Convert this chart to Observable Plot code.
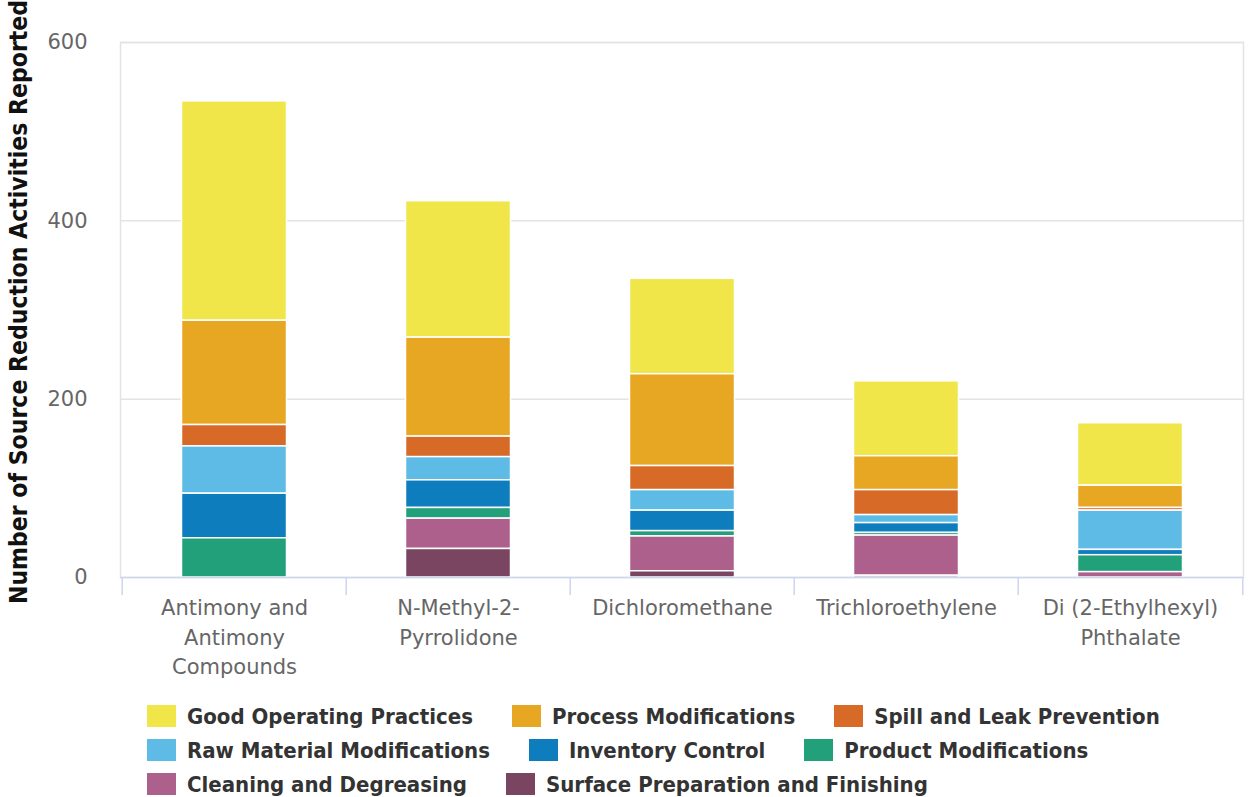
<!DOCTYPE html>
<html>
<head>
<meta charset="utf-8">
<script src="https://cdn.jsdelivr.net/npm/d3@7"></script>
<script src="https://cdn.jsdelivr.net/npm/@observablehq/plot@0.6"></script>
<style>
  html, body { margin: 0; padding: 0; background: #fff; }
  #chart svg { display: block; }
  #legend { padding-left: 147px; margin-top: 4px; font-family: "DejaVu Sans Condensed", "DejaVu Sans", sans-serif; font-stretch: condensed; font-weight: bold; font-size: 22px; color: #333; }
  .row { display: flex; align-items: center; height: 34px; }
  .item { display: flex; align-items: center; margin-right: 39px; white-space: nowrap; }
  .sw { width: 29px; height: 22px; margin-right: 11px; flex: none; }
  .ytitle { font-family: "DejaVu Sans Condensed", "DejaVu Sans", sans-serif; font-stretch: condensed; }
</style>
</head>
<body>
<div id="chart"></div>
<div id="legend"></div>
<script>
const categories = ["Antimony and Antimony Compounds", "N-Methyl-2-Pyrrolidone", "Dichloromethane", "Trichloroethylene", "Di (2-Ethylhexyl) Phthalate"];
const tickLabels = ["Antimony and\nAntimony\nCompounds", "N-Methyl-2-\nPyrrolidone", "Dichloromethane", "Trichloroethylene", "Di (2-Ethylhexyl)\nPhthalate"];
const series = ["Good Operating Practices", "Process Modifications", "Spill and Leak Prevention", "Raw Material Modifications", "Inventory Control", "Product Modifications", "Cleaning and Degreasing", "Surface Preparation and Finishing"];
const colors = ["#f0e64a", "#e8a723", "#d86a28", "#5dbbe5", "#0e7dbd", "#21a07a", "#ae608c", "#7a4561"];

const goodOperating = [246, 153, 107, 84, 70];
const processMods   = [117, 111, 103, 38, 25];
const spillLeak     = [24, 23, 27, 28, 3];
const rawMaterial   = [53, 26, 23, 9, 44];
const inventory     = [50, 31, 23, 11, 6];
const productMods   = [44, 12, 6, 3, 19];
const cleaning      = [0, 34, 39, 45, 6];
const surfacePrep   = [0, 32, 7, 2, 0];

const yTicks = [0, 200, 400, 600];
const yTitle = "Number of Source Reduction Activities Reported";

const seriesValues = [goodOperating, processMods, spillLeak, rawMaterial, inventory, productMods, cleaning, surfacePrep];
const table = [];
series.forEach((s, i) => categories.forEach((c, j) => {
  if (seriesValues[i][j] > 0) table.push({chem: c, type: s, value: seriesValues[i][j]});
}));
const stackOrder = [...series].reverse();

const W = 1249, H = 695, mL = 120, mR = 6, mT = 42, mB = H - 577;
const bw = (W - mL - mR) / categories.length;
const labelOf = new Map(categories.map((c, i) => [c, tickLabels[i]]));

const chart = Plot.plot({
  width: W, height: H,
  marginLeft: mL, marginRight: mR, marginTop: mT, marginBottom: mB,
  style: {fontFamily: "DejaVu Sans, sans-serif", background: "#fff"},
  x: {domain: categories, padding: 0, axis: null},
  y: {domain: [0, 600], axis: null},
  color: {domain: series, range: colors},
  marks: [
    Plot.gridY([200, 400, 600], {stroke: "#e3e3e3", strokeOpacity: 1, strokeWidth: 1.5}),
    Plot.frame({stroke: "#e3e3e3", strokeWidth: 1.5}),
    Plot.barY(table, Plot.stackY({order: stackOrder}, {x: "chem", y: "value", fill: "type", stroke: "white", strokeWidth: 1.5, insetLeft: 59.5, insetRight: 59.5})),
    Plot.ruleY([0], {stroke: "#ccd6eb", strokeWidth: 1.5}),
    Plot.axisX(categories, {tickSize: 18, tickFormat: () => "", stroke: "#ccd6eb", strokeWidth: 1.5, dx: -bw / 2, label: null}),
    Plot.axisX([categories[categories.length - 1]], {tickSize: 18, tickFormat: () => "", stroke: "#ccd6eb", strokeWidth: 1.5, dx: bw / 2, label: null}),
    Plot.axisX({tickSize: 0, tickPadding: 17, tickFormat: d => labelOf.get(d), fontSize: 21, fill: "#666", lineHeight: 1.395, label: null}),
    Plot.axisY({ticks: yTicks, tickSize: 0, tickPadding: 33, fontSize: 21, fill: "#666", label: null}),
    Plot.text([yTitle], {frameAnchor: "left", textAnchor: "middle", rotate: -90, dx: -101, dy: -8, fontSize: 24.5, fontWeight: "bold", fill: "#111", className: "ytitle"})
  ]
});
document.getElementById("chart").appendChild(chart);

const legendRows = [[0, 1, 2], [3, 4, 5], [6, 7]];
const legend = document.getElementById("legend");
legendRows.forEach(r => {
  const row = document.createElement("div");
  row.className = "row";
  r.forEach(i => {
    const it = document.createElement("div");
    it.className = "item";
    const sw = document.createElement("span");
    sw.className = "sw";
    sw.style.background = colors[i];
    const tx = document.createElement("span");
    tx.textContent = series[i];
    it.appendChild(sw); it.appendChild(tx);
    row.appendChild(it);
  });
  legend.appendChild(row);
});
</script>
</body>
</html>
